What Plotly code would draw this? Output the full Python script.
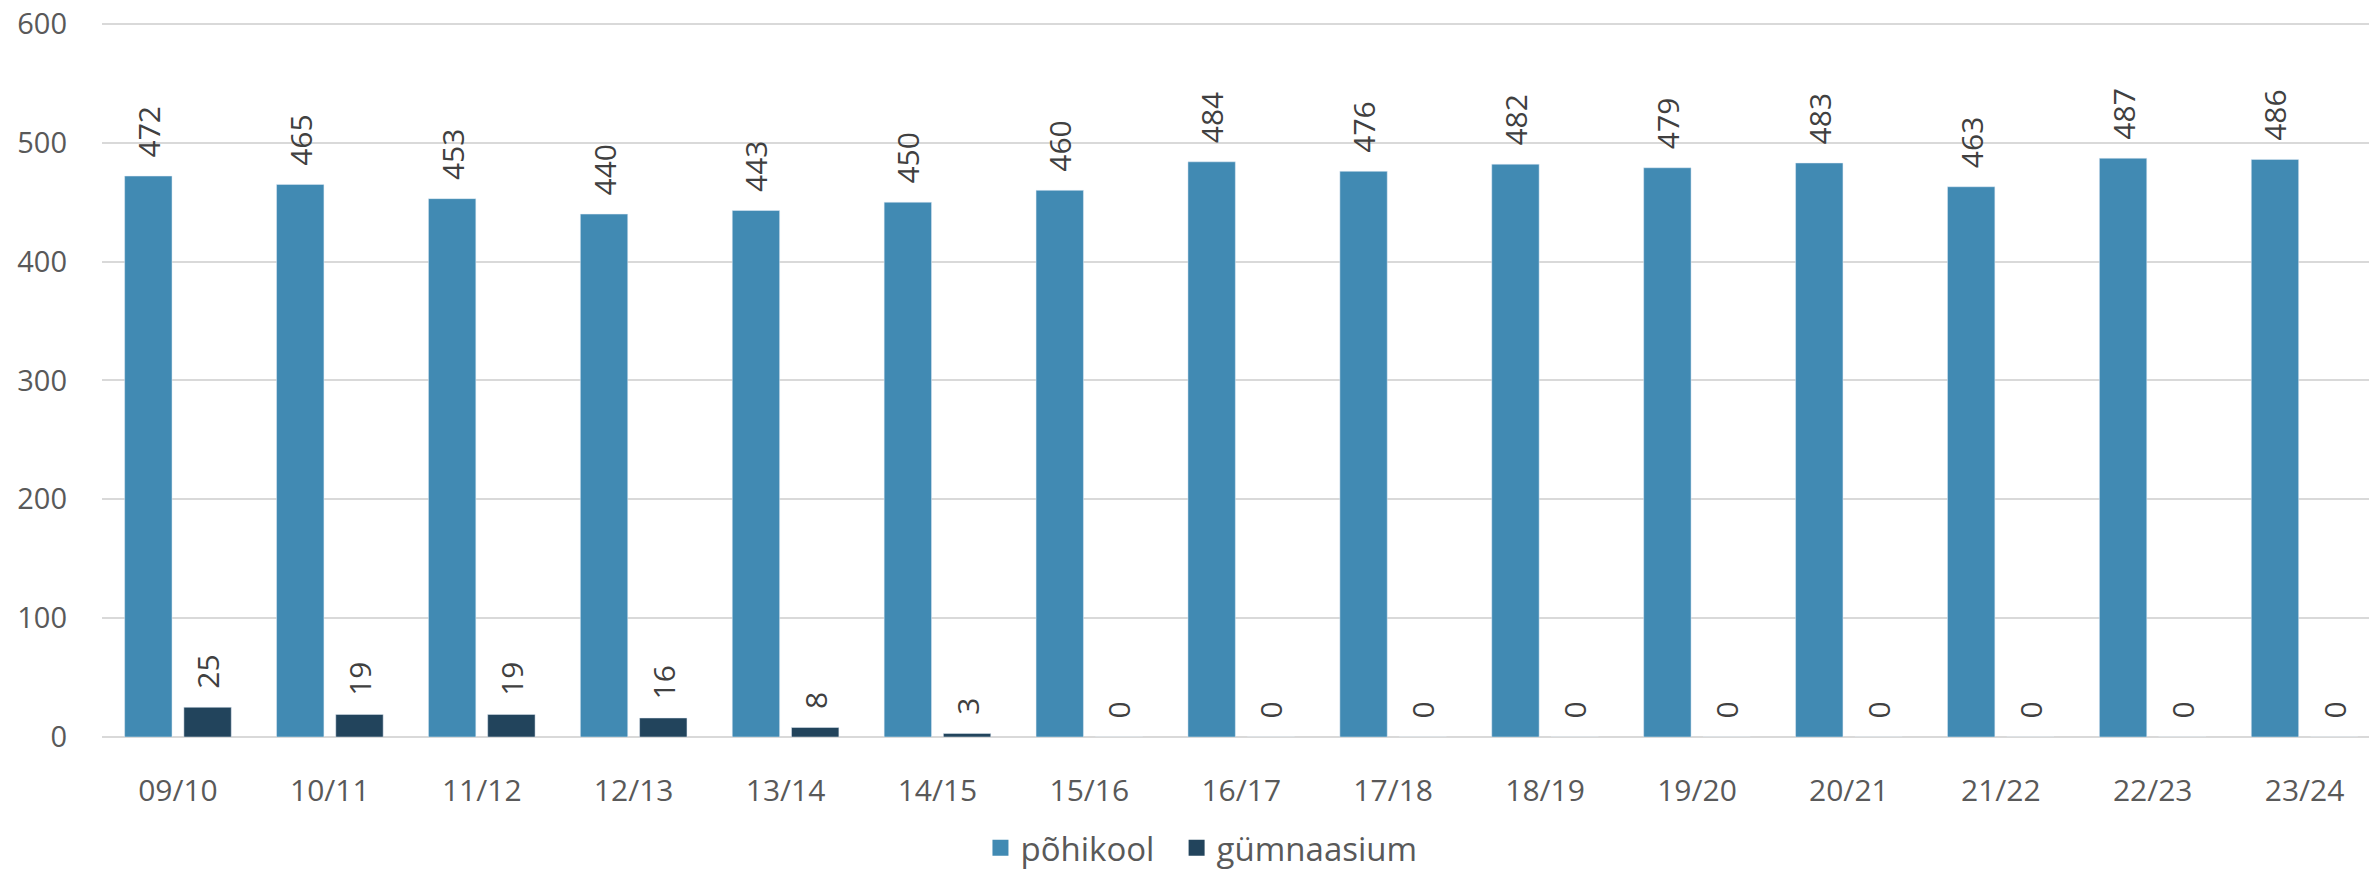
import plotly.graph_objects as go

years = ["09/10", "10/11", "11/12", "12/13", "13/14", "14/15", "15/16", "16/17",
         "17/18", "18/19", "19/20", "20/21", "21/22", "22/23", "23/24"]
pohikool = [472, 465, 453, 440, 443, 450, 460, 484, 476, 482, 479, 483, 463, 487, 486]
gymnaasium = [25, 19, 19, 16, 8, 3, 0, 0, 0, 0, 0, 0, 0, 0, 0]
series_names = ["põhikool", "gümnaasium"]
series_colors = ["#418AB3", "#22445C"]
y_ticks = [0, 100, 200, 300, 400, 500, 600]

FONT = "Open Sans"
PAD = "\u00a0\u00a0"
fig = go.Figure()
for name, vals, col in zip(series_names, [pohikool, gymnaasium], series_colors):
    fig.add_trace(go.Bar(
        name=name, x=years, y=vals, marker_color=col, showlegend=False,
        texttemplate=PAD + "%{y}", textposition="outside", textangle=-90,
        textfont=dict(family=FONT, size=30, color="#404040"),
        constraintext="none", cliponaxis=False,
    ))
# legend proxies (bigger square swatches)
legend_labels = [series_names[0] + "\u00a0\u00a0", series_names[1]]
for name, col in zip(legend_labels, series_colors):
    fig.add_trace(go.Scatter(
        name=name, x=[None], y=[None], mode="markers",
        marker=dict(symbol="square", size=21, color=col), showlegend=True,
    ))

fig.update_layout(
    width=2369, height=875,
    margin=dict(l=102, r=0, t=18, b=138, autoexpand=False),
    paper_bgcolor="white", plot_bgcolor="white",
    barmode="group", bargap=0.22, bargroupgap=0.2,
    font=dict(family=FONT, size=28, color="#595959"),
    showlegend=True,
    legend=dict(orientation="h", xref="paper", x=0.3875, xanchor="left",
                yref="container", y=0.031, yanchor="middle",
                font=dict(family=FONT, size=33, color="#595959"),
                itemwidth=30, traceorder="normal", bgcolor="rgba(0,0,0,0)"),
    xaxis=dict(range=[-0.5, 14.424], showgrid=False, showline=False, zeroline=False,
               ticks="", ticklabelstandoff=33, automargin=False,
               tickfont=dict(family=FONT, size=30, color="#595959")),
    yaxis=dict(range=[0, 605], tickvals=y_ticks,
               showgrid=True, gridcolor="#d9d9d9", gridwidth=1.5,
               zeroline=True, zerolinecolor="#d9d9d9", zerolinewidth=2,
               showline=False, ticks="", ticklabelstandoff=34, ticklabeloverflow="allow",
               automargin=False,
               tickfont=dict(family=FONT, size=29, color="#595959")),
)

fig.write_html("out.html", config={"displayModeBar": False},
               post_script="document.body.style.margin='0';document.body.style.overflow='hidden';")
